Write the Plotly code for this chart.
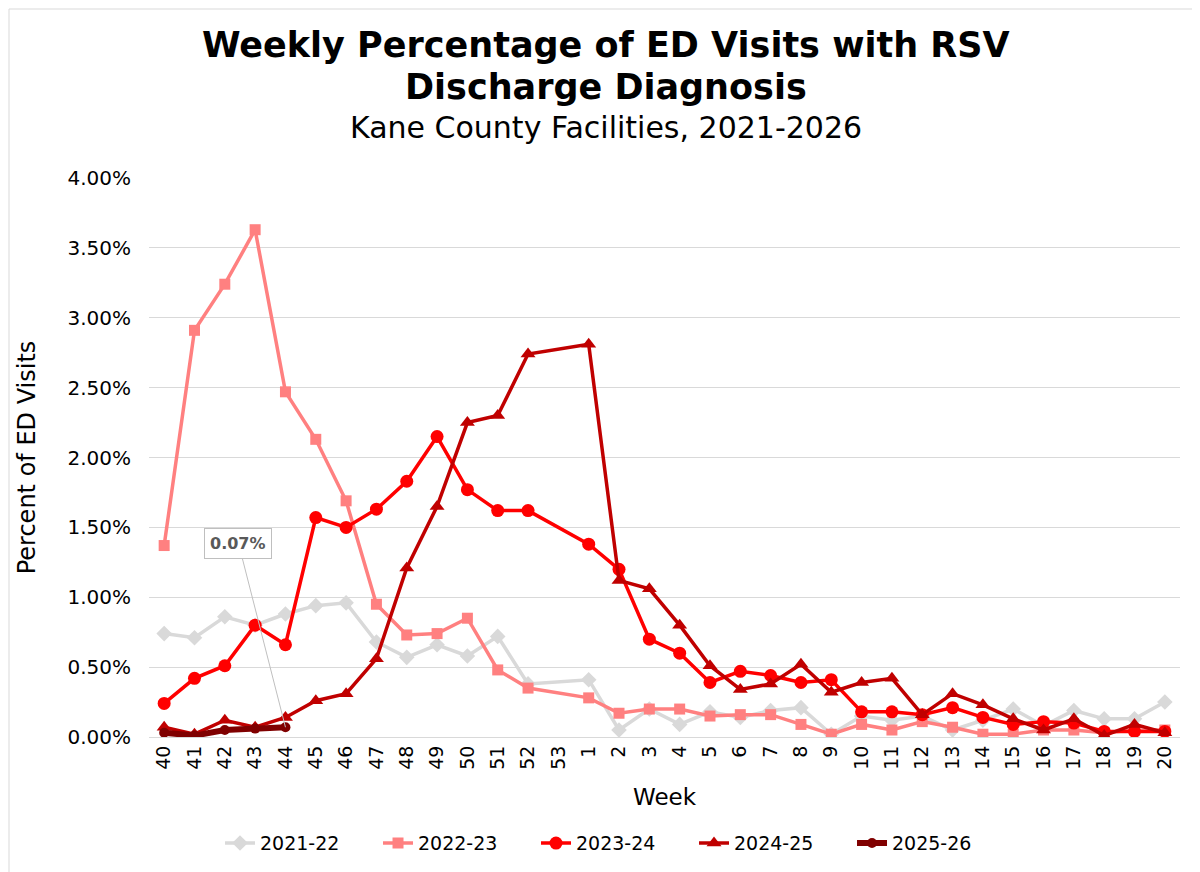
import plotly.graph_objects as go

# Weeks of the season (category axis)
weeks = [str(w) for w in range(40, 54)] + [str(w) for w in range(1, 21)]

# Percent of ED visits (as fractions); None = no data for that week
s2021_22 = [0.0074, 0.0071, 0.0086, 0.0080, 0.0088, 0.0094, 0.0096, 0.0068, 0.0057, 0.0066,
            0.0058, 0.0072, 0.0038, None, 0.0041, 0.0005, 0.0020, 0.0009, 0.0018, 0.0014,
            0.0019, 0.0021, 0.0002, 0.0015, 0.0012, 0.0015, 0.0005, 0.0012, 0.0020, 0.0008,
            0.0019, 0.0013, 0.0013, 0.0025]
s2022_23 = [0.0137, 0.0291, 0.0324, 0.0363, 0.0247, 0.0213, 0.0169, 0.0095, 0.0073, 0.0074,
            0.0085, 0.0048, 0.0035, None, 0.0028, 0.0017, 0.0020, 0.0020, 0.0015, 0.0016,
            0.0016, 0.0009, 0.0002, 0.0009, 0.0005, 0.0011, 0.0007, 0.0002, 0.0002, 0.0005,
            0.0005, 0.0003, 0.0005, 0.0005]
s2023_24 = [0.0024, 0.0042, 0.0051, 0.0080, 0.0066, 0.0157, 0.0150, 0.0163, 0.0183, 0.0215,
            0.0177, 0.0162, 0.0162, None, 0.0138, 0.0120, 0.0070, 0.0060, 0.0039, 0.0047,
            0.0044, 0.0039, 0.0041, 0.0018, 0.0018, 0.0016, 0.0021, 0.0014, 0.0009, 0.0011,
            0.0010, 0.0004, 0.0004, 0.0004]
s2024_25 = [0.0007, 0.0002, 0.0012, 0.0007, 0.0014, 0.0026, 0.0031, 0.0056, 0.0121, 0.0165,
            0.0225, 0.0230, 0.0274, None, 0.0281, 0.0112, 0.0106, 0.0080, 0.0051, 0.0034,
            0.0038, 0.0052, 0.0032, 0.0039, 0.0042, 0.0016, 0.0031, 0.0023, 0.0013, 0.0005,
            0.0013, 0.0001, 0.0009, 0.0003]
s2025_26 = [0.0003, 0.0001, 0.0005, 0.0006, 0.0007]

series = [
    ("2021-22", s2021_22, "#D9D9D9", "diamond", 12, 3.5),
    ("2022-23", s2022_23, "#FF8080", "square", 11, 3.5),
    ("2023-24", s2023_24, "#FF0000", "circle", 13, 3.5),
    ("2024-25", s2024_25, "#C00000", "triangle-up", 13, 3.5),
    ("2025-26", s2025_26, "#800000", "circle", 10, 6),
]

font_family = "Verdana, DejaVu Sans, sans-serif"

fig = go.Figure()
for name, vals, color, symbol, msize, lw in series:
    fig.add_trace(go.Scatter(
        x=weeks[:len(vals)], y=vals, name=name, mode="lines+markers",
        line=dict(color=color, width=lw),
        marker=dict(color=color, symbol=symbol, size=msize),
        connectgaps=True,
    ))

# callout for latest value
fig.add_annotation(
    x=weeks.index("44"), y=s2025_26[-1], xref="x", yref="y",
    text="<b>0.07%</b>", showarrow=True, arrowhead=0, arrowwidth=1,
    arrowcolor="#BFBFBF", ax=-47, ay=-184,
    bgcolor="white", bordercolor="#BFBFBF", borderwidth=1, borderpad=5,
    font=dict(family=font_family, size=16, color="#595959"),
)

# titles
titles = [
    ("<b>Weekly Percentage of ED Visits with RSV</b>", 1.238, 35),
    ("<b>Discharge Diagnosis</b>", 1.162, 35),
    ("Kane County Facilities, 2021-2026", 1.09, 30),
]
for txt, ypos, size in titles:
    fig.add_annotation(
        text=txt, xref="paper", yref="paper", x=0.443, y=ypos,
        xanchor="center", yanchor="middle", showarrow=False,
        font=dict(family=font_family, size=size, color="black"),
    )

# chart border
fig.add_shape(
    type="rect", xref="paper", yref="paper",
    x0=-140 / 1031, x1=1 + 26 / 1031, y0=-142 / 559, y1=1 + 169 / 559,
    line=dict(color="#D9D9D9", width=1), layer="below",
)

fig.update_layout(
    width=1200, height=872,
    paper_bgcolor="white", plot_bgcolor="white",
    margin=dict(l=141, r=28, t=170, b=143, autoexpand=False),
    font=dict(family=font_family, color="black"),
    legend=dict(
        orientation="h", x=0.452, xanchor="center", y=-0.19, yanchor="middle",
        font=dict(size=19), entrywidth=113, entrywidthmode="pixels",
    ),
    showlegend=True,
)

fig.update_xaxes(
    type="category", categoryorder="array", categoryarray=weeks,
    tickangle=-90, tickfont=dict(size=19), automargin=False,
    title=dict(text="Week", font=dict(size=23), standoff=20),
    showgrid=False, showline=True, linecolor="#D9D9D9",
    ticks="", range=[-0.5, len(weeks) - 0.5],
)
fig.update_yaxes(
    range=[0, 0.04], dtick=0.005, tickformat=".2%",
    tickfont=dict(size=20), automargin=False, ticklabelstandoff=17,
    title=dict(text="Percent of ED Visits", font=dict(size=24), standoff=25),
    showgrid=True, gridcolor="#D9D9D9", zeroline=False, showline=False,
)

fig.write_html("out.html")
